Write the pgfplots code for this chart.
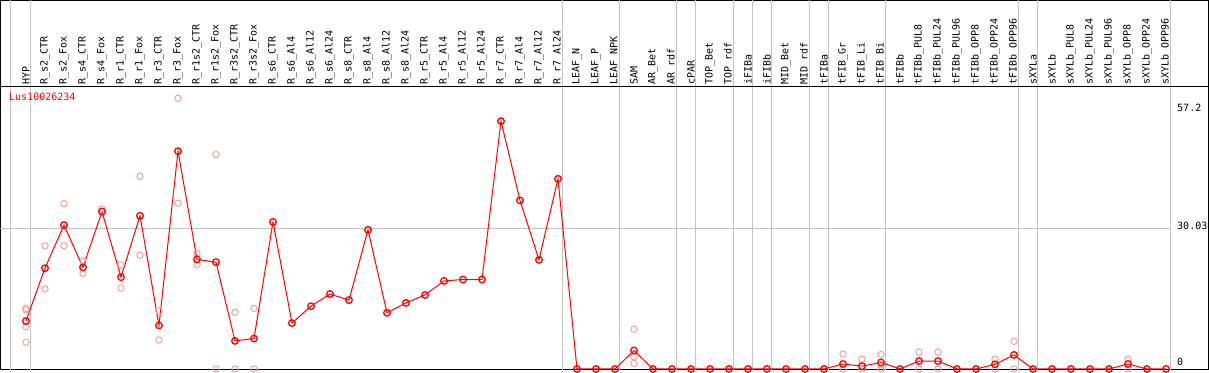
\documentclass[border=0pt]{standalone}
\usepackage{fontspec}
\usepackage{pgfplots}
\pgfplotsset{compat=1.18}
\newfontfamily\monofont{DejaVu Sans Mono}
\newcommand\us{\char95\relax}
\definecolor{rep}{HTML}{F0A0A0}
\definecolor{vline}{HTML}{C4C4C4}
\begin{document}
\begin{tikzpicture}
\begin{axis}[
  scale only axis, width=1208pt, height=369pt,
  xmin=-1.342, xmax=62.237, ymin=-0.107, ymax=78.66,
  axis line style={black, line width=1pt},
  xtick={0,...,60},
  xticklabels={HYP,R\us s2\us CTR,R\us s2\us Fox,R\us s4\us CTR,R\us s4\us Fox,R\us r1\us CTR,R\us r1\us Fox,R\us r3\us CTR,R\us r3\us Fox,R\us r1s2\us CTR,R\us r1s2\us Fox,R\us r3s2\us CTR,R\us r3s2\us Fox,R\us s6\us CTR,R\us s6\us Al4,R\us s6\us Al12,R\us s6\us Al24,R\us s8\us CTR,R\us s8\us Al4,R\us s8\us Al12,R\us s8\us Al24,R\us r5\us CTR,R\us r5\us Al4,R\us r5\us Al12,R\us r5\us Al24,R\us r7\us CTR,R\us r7\us Al4,R\us r7\us Al12,R\us r7\us Al24,LEAF\us N,LEAF\us P,LEAF\us NPK,SAM,AR\us Bet,AR\us rdf,cPAR,TOP\us Bet,TOP\us rdf,iFIBa,iFIBb,MID\us Bet,MID\us rdf,tFIBa,tFIB\us Gr,tFIB\us Li,tFIB\us Bi,tFIBb,tFIBb\us PUL8,tFIBb\us PUL24,tFIBb\us PUL96,tFIBb\us OPP8,tFIBb\us OPP24,tFIBb\us OPP96,sXYLa,sXYLb,sXYLb\us PUL8,sXYLb\us PUL24,sXYLb\us PUL96,sXYLb\us OPP8,sXYLb\us OPP24,sXYLb\us OPP96},
  xticklabel pos=upper,
  xticklabel style={rotate=90, anchor=west, inner sep=0pt, font=\monofont\fontsize{10}{12}\selectfont},
  xticklabel shift=-84pt,
  major tick length=0pt,
  ytick={1.5,30.6,55.7},
  yticklabels={\mbox{\monofont 0},\mbox{\monofont 30.03},\mbox{\monofont 57.2}},
  yticklabel pos=upper,
  yticklabel style={anchor=west, inner sep=0pt, font=\monofont\fontsize{10}{12}\selectfont},
  yticklabel shift=-31.5pt,
  clip=true,
]
% separators
\draw[vline, line width=1pt] (axis cs:-0.8,-5) -- (axis cs:-0.8,90);
\draw[vline, line width=1pt] (axis cs:0.25,-5) -- (axis cs:0.25,90);
\draw[vline, line width=1pt] (axis cs:28.25,-5) -- (axis cs:28.25,90);
\draw[vline, line width=1pt] (axis cs:31.25,-5) -- (axis cs:31.25,90);
\draw[vline, line width=1pt] (axis cs:34.25,-5) -- (axis cs:34.25,90);
\draw[vline, line width=1pt] (axis cs:35.25,-5) -- (axis cs:35.25,90);
\draw[vline, line width=1pt] (axis cs:37.25,-5) -- (axis cs:37.25,90);
\draw[vline, line width=1pt] (axis cs:38.25,-5) -- (axis cs:38.25,90);
\draw[vline, line width=1pt] (axis cs:39.25,-5) -- (axis cs:39.25,90);
\draw[vline, line width=1pt] (axis cs:41.25,-5) -- (axis cs:41.25,90);
\draw[vline, line width=1pt] (axis cs:42.25,-5) -- (axis cs:42.25,90);
\draw[vline, line width=1pt] (axis cs:45.25,-5) -- (axis cs:45.25,90);
\draw[vline, line width=1pt] (axis cs:52.25,-5) -- (axis cs:52.25,90);
\draw[vline, line width=1pt] (axis cs:53.25,-5) -- (axis cs:53.25,90);
\draw[vline, line width=1pt] (axis cs:60.25,-5) -- (axis cs:60.25,90);
\draw[vline, line width=1pt] (axis cs:-2,30.03) -- (axis cs:60.25,30.03);
\draw[black, line width=1pt] (axis cs:-2,60.40) -- (axis cs:63,60.40);
\node[anchor=west, text=red, inner sep=0pt, font=\monofont\fontsize{10}{12}\selectfont] at (axis cs:-0.895,58.06) {Lus10026234};
% replicates
\addplot[only marks, mark=o, mark size=3.2pt, color=rep, mark options={line width=1pt}] coordinates {
(0,12.95) (0,12.6) (0,9.0) (0,5.7)
(1,26.3) (1,17.1) (2,35.3) (2,26.3) (3,23.0) (3,20.4) (4,34.2) (4,33.7)
(5,22.2) (5,17.3) (6,41.1) (6,24.3) (7,12.4) (7,6.2) (8,57.8) (8,35.4)
(9,24.7) (9,22.3) (10,45.8) (10,0) (11,12.1) (11,0) (12,12.95) (12,0)
(32,8.5) (32,2.6) (32,1.2)
(43,3.2) (43,0) (44,2.1) (44,0) (45,3.1) (45,0.9) (45,0)
(47,3.6) (47,0) (48,3.6) (48,0) (51,2.1) (51,0) (52,5.9) (52,0) (58,2.1) (58,0)
};
% means
\addplot[red, line width=1pt, mark=o, mark size=3.3pt, mark options={line width=1.3pt}] coordinates {
(0,10.25) (1,21.5) (2,30.7) (3,21.7) (4,33.6) (5,19.6) (6,32.7) (7,9.3) (8,46.5)
(9,23.4) (10,22.8) (11,6.0) (12,6.5) (13,31.4) (14,9.8) (15,13.4) (16,16.0)
(17,14.7) (18,29.7) (19,12.0) (20,14.1) (21,15.8) (22,18.8) (23,19.1) (24,19.1)
(25,52.9) (26,36.0) (27,23.3) (28,40.6) (29,0) (30,0) (31,0) (32,3.95)
(33,0) (34,0) (35,0) (36,0) (37,0) (38,0) (39,0) (40,0) (41,0) (42,0)
(43,1.07) (44,0.6) (45,1.4) (46,0) (47,1.7) (48,1.7) (49,0) (50,0) (51,1.0) (52,3.0)
(53,0) (54,0) (55,0) (56,0) (57,0) (58,1.07) (59,0) (60,0)
};
\end{axis}
\end{tikzpicture}
\end{document}
